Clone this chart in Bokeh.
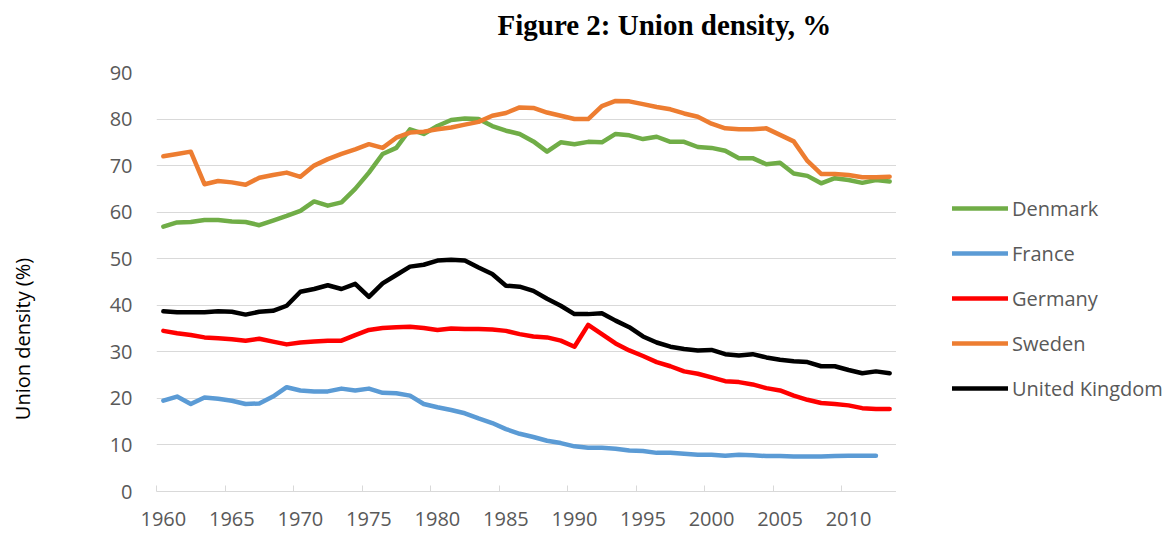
import math
from bokeh.plotting import figure
from bokeh.layouts import column, row
from bokeh.models import Legend, LegendItem, Label, FixedTicker
from bokeh.embed import file_html
from bokeh.resources import INLINE

years = list(range(1960, 2014))

denmark = [56.9, 57.8, 57.9, 58.3, 58.3, 58.0, 57.9, 57.2, 58.2, 59.2,
           60.3, 62.3, 61.4, 62.1, 65.0, 68.5, 72.5, 73.8, 77.8, 76.8,
           78.5, 79.8, 80.1, 80.0, 78.5, 77.5, 76.8, 75.2, 73.0, 75.0,
           74.6, 75.1, 75.0, 76.8, 76.5, 75.7, 76.2, 75.1, 75.1, 74.0,
           73.8, 73.2, 71.6, 71.6, 70.3, 70.6, 68.3, 67.8, 66.2, 67.3,
           66.9, 66.3, 66.9, 66.6]
france = [19.5, 20.4, 18.8, 20.2, 19.9, 19.5, 18.8, 18.9, 20.4, 22.4,
          21.7, 21.5, 21.5, 22.1, 21.7, 22.1, 21.2, 21.1, 20.6, 18.8,
          18.1, 17.5, 16.8, 15.7, 14.7, 13.4, 12.4, 11.7, 10.9, 10.4,
          9.7, 9.4, 9.4, 9.2, 8.8, 8.7, 8.3, 8.3, 8.1, 7.9,
          7.9, 7.7, 7.9, 7.8, 7.6, 7.6, 7.5, 7.5, 7.5, 7.6,
          7.7, 7.7, 7.7]
germany = [34.5, 34.0, 33.6, 33.1, 32.9, 32.7, 32.4, 32.8, 32.2, 31.6,
           32.0, 32.2, 32.4, 32.4, 33.6, 34.7, 35.1, 35.3, 35.4, 35.1,
           34.7, 35.0, 34.9, 34.9, 34.8, 34.5, 33.8, 33.3, 33.1, 32.4,
           31.1, 35.8, 33.8, 31.8, 30.3, 29.1, 27.8, 26.9, 25.8, 25.3,
           24.5, 23.7, 23.5, 23.0, 22.2, 21.7, 20.6, 19.7, 19.0, 18.8,
           18.5, 17.9, 17.7, 17.7]
sweden = [72.0, 72.5, 73.0, 66.0, 66.7, 66.4, 65.9, 67.4, 68.0, 68.5,
          67.6, 70.0, 71.4, 72.5, 73.5, 74.6, 73.8, 76.0, 77.1, 77.3,
          77.8, 78.2, 78.8, 79.4, 80.7, 81.3, 82.5, 82.4, 81.4, 80.7,
          80.0, 80.0, 82.8, 83.9, 83.8, 83.2, 82.6, 82.1, 81.2, 80.5,
          79.0, 78.0, 77.8, 77.8, 78.0, 76.6, 75.2, 71.0, 68.2, 68.2,
          68.0, 67.5, 67.5, 67.6]
uk = [38.7, 38.5, 38.5, 38.5, 38.7, 38.6, 38.0, 38.6, 38.8, 39.9,
      42.9, 43.5, 44.3, 43.5, 44.6, 41.8, 44.7, 46.5, 48.3, 48.7,
      49.6, 49.8, 49.6, 48.1, 46.7, 44.2, 44.0, 43.1, 41.4, 39.9,
      38.1, 38.1, 38.3, 36.7, 35.3, 33.3, 32.0, 31.1, 30.6, 30.3,
      30.4, 29.5, 29.2, 29.5, 28.8, 28.3, 28.0, 27.8, 26.9, 26.9,
      26.1, 25.4, 25.8, 25.4]

series_names = ["Denmark", "France", "Germany", "Sweden", "United Kingdom"]
series_values = [denmark, france, germany, sweden, uk]
series_colors = ["#70AD47", "#5B9BD5", "#FF0000", "#ED7D31", "#000000"]

x_tick_labels = [1960, 1965, 1970, 1975, 1980, 1985, 1990, 1995, 2000, 2005, 2010]
y_ticks = [0, 10, 20, 30, 40, 50, 60, 70, 80, 90]

FONT = "Open Sans"
GREY = "#595959"

TOTAL_W, TOTAL_H = 1173, 533
TITLE_H = 50
YLAB_W = 40
FRAME_L, FRAME_R, FRAME_T, FRAME_B = 156, 896, 72, 491
MAIN_H = TOTAL_H - TITLE_H
BT = FRAME_T - TITLE_H
BB = TOTAL_H - FRAME_B


def blank(width, height, **kw):
    f = figure(width=width, height=height, output_backend="svg", toolbar_location=None,
               x_range=(0, 1), y_range=(0, 1), x_axis_location=None, y_axis_location=None,
               min_border=0, **kw)
    f.outline_line_color = None
    f.grid.visible = False
    f.background_fill_color = "white"
    f.border_fill_color = "white"
    return f


# title strip
tf = blank(TOTAL_W, TITLE_H)
tf.add_layout(Label(x=497, y=TITLE_H - 24, x_units="screen", y_units="screen",
                    text="Figure 2: Union density, %", text_font="Liberation Serif",
                    text_font_style="bold", text_font_size="29px", text_color="black",
                    text_align="left", text_baseline="alphabetic"))

# y-axis title strip (frame aligned with main frame)
yf = blank(YLAB_W, MAIN_H, min_border_top=BT, min_border_bottom=BB)
yf.add_layout(Label(x=22, y=FRAME_B - 338.5, x_units="screen", y_units="screen",
                    text="Union density (%)", text_font=FONT, text_font_size="20px",
                    text_color="black", angle=math.pi / 2, text_align="center",
                    text_baseline="middle"))

# main chart
p = figure(width=FRAME_R - YLAB_W, height=MAIN_H, output_backend="svg",
           toolbar_location=None, x_range=(1959.5, 2013.5), y_range=(0, 90),
           min_border_left=FRAME_L - YLAB_W, min_border_right=0,
           min_border_top=BT, min_border_bottom=BB)
p.outline_line_color = None
p.background_fill_color = "white"
p.border_fill_color = "white"

for name, vals, col in zip(series_names, series_values, series_colors):
    p.line(years[:len(vals)], vals, line_color=col, line_width=4.5,
           line_join="round", line_cap="round")

xa = p.xaxis[0]
xa.ticker = FixedTicker(ticks=x_tick_labels,
                        minor_ticks=[y - 0.5 for y in range(1960, 2015, 5)])
xa.axis_line_color = "#D9D9D9"
xa.axis_line_width = 1
xa.major_tick_line_color = None
xa.major_tick_in = 0
xa.major_tick_out = 0
xa.minor_tick_line_color = "#D9D9D9"
xa.minor_tick_in = 6
xa.minor_tick_out = 0
xa.major_label_text_font = FONT
xa.major_label_text_font_size = "20px"
xa.major_label_text_color = GREY
xa.major_label_standoff = 20

ya = p.yaxis[0]
ya.ticker = FixedTicker(ticks=y_ticks)
ya.axis_line_color = None
ya.major_tick_line_color = None
ya.minor_tick_line_color = None
ya.major_tick_in = 0
ya.major_tick_out = 0
ya.major_label_text_font = FONT
ya.major_label_text_font_size = "20px"
ya.major_label_text_color = GREY
ya.major_label_standoff = 24

p.xgrid.grid_line_color = None
p.ygrid.grid_line_color = "#D9D9D9"
p.ygrid.grid_line_width = 1
p.ygrid.ticker = FixedTicker(ticks=y_ticks[1:])

# legend strip (frame aligned with main frame); swatch renderers hold no visible data
lf = blank(TOTAL_W - FRAME_R, MAIN_H, min_border_top=BT, min_border_bottom=BB)
swatches = []
nan = float("nan")
for name, col in zip(series_names, series_colors):
    r = lf.line(x=[nan, nan], y=[nan, nan], line_color=col, line_width=4.5,
                line_cap="round")
    swatches.append(LegendItem(label=name, renderers=[r]))
legend = Legend(items=swatches, location=(56, FRAME_B - 401.5), orientation="vertical")
legend.padding = 0
legend.margin = 0
legend.border_line_color = None
legend.background_fill_alpha = 0
legend.glyph_width = 56
legend.glyph_height = 20
legend.label_height = 20
legend.spacing = 18
legend.label_standoff = 4
legend.label_text_font = FONT
legend.label_text_font_size = "20px"
legend.label_text_color = GREY
lf.add_layout(legend)

layout = column(tf, row(yf, p, lf, spacing=0), spacing=0)

open("out.html", "w").write(file_html(layout, INLINE))
